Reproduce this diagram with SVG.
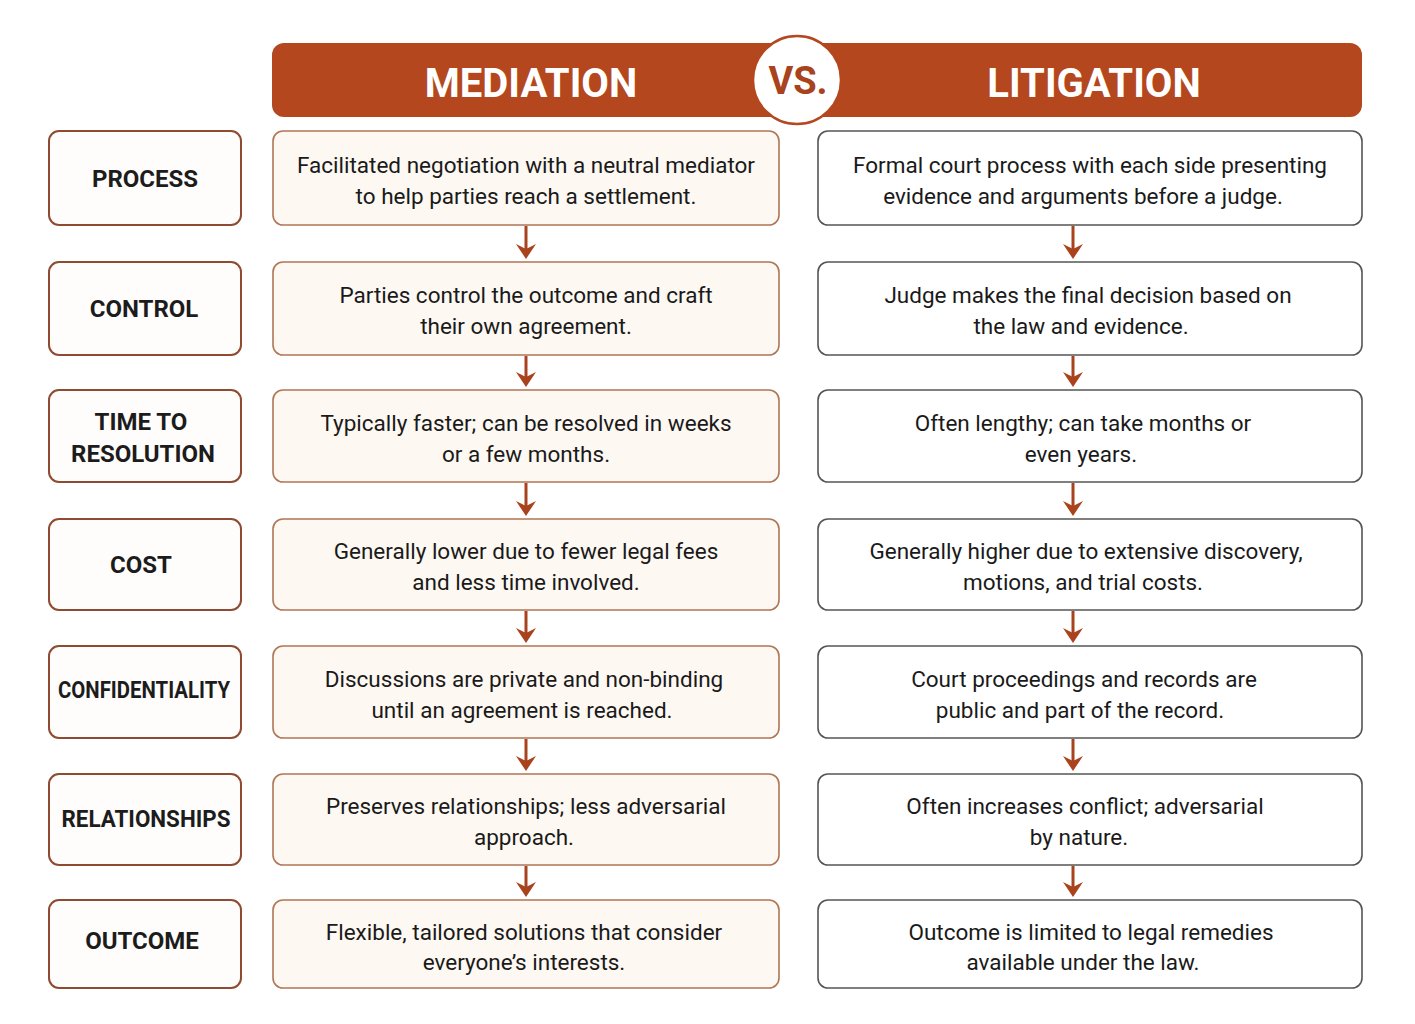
<svg xmlns="http://www.w3.org/2000/svg" width="1415" height="1024" viewBox="0 0 1415 1024">
<style>
.lbl{fill:#fffdfc;stroke:#8e4b32;stroke-width:2}
.med{fill:#fdf8f2;stroke:#b07656;stroke-width:1.6}
.lit{fill:#ffffff;stroke:#555555;stroke-width:1.6}
.lt{font-family:Roboto,"Liberation Sans",sans-serif;font-weight:bold;font-size:24px;fill:#1c1c1c;text-anchor:middle}
.bt{font-family:Roboto,"Liberation Sans",sans-serif;font-size:22.5px;fill:#1a1a1a;text-anchor:middle}
.hd{font-family:Roboto,"Liberation Sans",sans-serif;font-weight:bold;font-size:40px;fill:#ffffff;text-anchor:middle}
.conn line{stroke:#a8431d;stroke-width:3}
</style>
<defs>
<path id="arr" d="M-10,-16 L0,-1 L10,-16 L0,-11 Z" fill="#a8431d"/>
</defs>
<rect width="1415" height="1024" fill="#ffffff"/>

<g id="header">
<rect x="272" y="43" width="1090" height="74" rx="12" fill="#b4471e"/>
<text class="hd" x="531" y="97">MEDIATION</text>
<text class="hd" x="1094" y="97">LITIGATION</text>
</g>
<g id="vs">
<circle cx="797" cy="80" r="44" fill="#ffffff" stroke="#b4471e" stroke-width="2.5"/>
<text x="798" y="94" style="font-family:Roboto,'Liberation Sans',sans-serif;font-weight:bold;font-size:38px;fill:#a8431d;text-anchor:middle">VS.</text>
</g>

<g class="conn" id="connectors">
<line x1="526" y1="226" x2="526" y2="250"/><use href="#arr" x="526" y="260"/>
<line x1="526" y1="356" x2="526" y2="378"/><use href="#arr" x="526" y="388"/>
<line x1="526" y1="483" x2="526" y2="507"/><use href="#arr" x="526" y="517"/>
<line x1="526" y1="611" x2="526" y2="634"/><use href="#arr" x="526" y="644"/>
<line x1="526" y1="739" x2="526" y2="762"/><use href="#arr" x="526" y="772"/>
<line x1="526" y1="866" x2="526" y2="888"/><use href="#arr" x="526" y="898"/>
<line x1="1073" y1="226" x2="1073" y2="250"/><use href="#arr" x="1073" y="260"/>
<line x1="1073" y1="356" x2="1073" y2="378"/><use href="#arr" x="1073" y="388"/>
<line x1="1073" y1="483" x2="1073" y2="507"/><use href="#arr" x="1073" y="517"/>
<line x1="1073" y1="611" x2="1073" y2="634"/><use href="#arr" x="1073" y="644"/>
<line x1="1073" y1="739" x2="1073" y2="762"/><use href="#arr" x="1073" y="772"/>
<line x1="1073" y1="866" x2="1073" y2="888"/><use href="#arr" x="1073" y="898"/>
</g>

<!-- Row 1 -->
<g id="lbl-process"><rect class="lbl" x="49" y="131" width="192" height="94" rx="10"/><text class="lt" x="145" y="187">PROCESS</text></g>
<g id="med-process"><rect class="med" x="273" y="131" width="506" height="94" rx="10"/>
<text class="bt" x="526" y="173">Facilitated negotiation with a neutral mediator</text>
<text class="bt" x="526" y="204">to help parties reach a settlement.</text></g>
<g id="lit-process"><rect class="lit" x="818" y="131" width="544" height="94" rx="10"/>
<text class="bt" x="1090" y="173">Formal court process with each side presenting</text>
<text class="bt" x="1083" y="204">evidence and arguments before a judge.</text></g>

<!-- Row 2 -->
<g id="lbl-control"><rect class="lbl" x="49" y="262" width="192" height="93" rx="10"/><text class="lt" x="144" y="317">CONTROL</text></g>
<g id="med-control"><rect class="med" x="273" y="262" width="506" height="93" rx="10"/>
<text class="bt" x="526" y="303">Parties control the outcome and craft</text>
<text class="bt" x="526" y="334">their own agreement.</text></g>
<g id="lit-control"><rect class="lit" x="818" y="262" width="544" height="93" rx="10"/>
<text class="bt" x="1088" y="303">Judge makes the final decision based on</text>
<text class="bt" x="1081" y="334">the law and evidence.</text></g>

<!-- Row 3 -->
<g id="lbl-time"><rect class="lbl" x="49" y="390" width="192" height="92" rx="10"/>
<text class="lt" x="141" y="430">TIME TO</text><text class="lt" x="143" y="462">RESOLUTION</text></g>
<g id="med-time"><rect class="med" x="273" y="390" width="506" height="92" rx="10"/>
<text class="bt" x="526" y="431">Typically faster; can be resolved in weeks</text>
<text class="bt" x="526" y="462">or a few months.</text></g>
<g id="lit-time"><rect class="lit" x="818" y="390" width="544" height="92" rx="10"/>
<text class="bt" x="1083" y="431">Often lengthy; can take months or</text>
<text class="bt" x="1081" y="462">even years.</text></g>

<!-- Row 4 -->
<g id="lbl-cost"><rect class="lbl" x="49" y="519" width="192" height="91" rx="10"/><text class="lt" x="141" y="573">COST</text></g>
<g id="med-cost"><rect class="med" x="273" y="519" width="506" height="91" rx="10"/>
<text class="bt" x="526" y="559">Generally lower due to fewer legal fees</text>
<text class="bt" x="526" y="590">and less time involved.</text></g>
<g id="lit-cost"><rect class="lit" x="818" y="519" width="544" height="91" rx="10"/>
<text class="bt" x="1086" y="559">Generally higher due to extensive discovery,</text>
<text class="bt" x="1083" y="590">motions, and trial costs.</text></g>

<!-- Row 5 -->
<g id="lbl-conf"><rect class="lbl" x="49" y="646" width="192" height="92" rx="10"/><text class="lt" x="144" y="698" textLength="172" lengthAdjust="spacingAndGlyphs">CONFIDENTIALITY</text></g>
<g id="med-conf"><rect class="med" x="273" y="646" width="506" height="92" rx="10"/>
<text class="bt" x="524" y="687">Discussions are private and non-binding</text>
<text class="bt" x="522" y="718">until an agreement is reached.</text></g>
<g id="lit-conf"><rect class="lit" x="818" y="646" width="544" height="92" rx="10"/>
<text class="bt" x="1084" y="687">Court proceedings and records are</text>
<text class="bt" x="1080" y="718">public and part of the record.</text></g>

<!-- Row 6 -->
<g id="lbl-rel"><rect class="lbl" x="49" y="774" width="192" height="91" rx="10"/><text class="lt" x="146" y="827" textLength="169" lengthAdjust="spacingAndGlyphs">RELATIONSHIPS</text></g>
<g id="med-rel"><rect class="med" x="273" y="774" width="506" height="91" rx="10"/>
<text class="bt" x="526" y="814">Preserves relationships; less adversarial</text>
<text class="bt" x="524" y="845">approach.</text></g>
<g id="lit-rel"><rect class="lit" x="818" y="774" width="544" height="91" rx="10"/>
<text class="bt" x="1085" y="814">Often increases conflict; adversarial</text>
<text class="bt" x="1079" y="845">by nature.</text></g>

<!-- Row 7 -->
<g id="lbl-out"><rect class="lbl" x="49" y="900" width="192" height="88" rx="10"/><text class="lt" x="142" y="949">OUTCOME</text></g>
<g id="med-out"><rect class="med" x="273" y="900" width="506" height="88" rx="10"/>
<text class="bt" x="524" y="940">Flexible, tailored solutions that consider</text>
<text class="bt" x="524" y="970">everyone’s interests.</text></g>
<g id="lit-out"><rect class="lit" x="818" y="900" width="544" height="88" rx="10"/>
<text class="bt" x="1091" y="940">Outcome is limited to legal remedies</text>
<text class="bt" x="1083" y="970">available under the law.</text></g>
</svg>
